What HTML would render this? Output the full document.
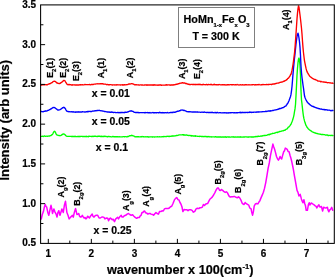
<!DOCTYPE html>
<html><head><meta charset="utf-8"><title>Raman spectra</title>
<style>
html,body{margin:0;padding:0;background:#fff;}
body{width:335px;height:277px;overflow:hidden;}
svg{display:block;will-change:transform;}
text{font-family:"Liberation Sans",sans-serif;font-weight:bold;fill:#000;stroke:#000;stroke-width:0.2px;}
</style></head><body>
<svg width="335" height="277" viewBox="0 0 335 277">
<rect x="0" y="0" width="335" height="277" fill="#fff"/>
<g fill="none" stroke-width="1.35" stroke-linejoin="round" stroke-linecap="round">
<path stroke="#ff00ff" stroke-width="1.5" d="M41.3,218.9 L42.3,214.5 L43.4,211.6 L44.3,207.3 L45.2,204.4 L46.0,206.5 L46.7,207.1 L47.8,212.4 L48.8,215.3 L49.9,210.1 L51.0,205.3 L51.8,209.0 L52.5,213.5 L53.9,208.9 L54.9,211.8 L56.0,213.9 L57.0,217.1 L57.9,212.5 L58.8,210.7 L60.0,215.3 L61.0,212.0 L61.9,208.9 L63.3,212.5 L64.4,205.1 L65.5,201.3 L66.2,207.2 L66.9,212.5 L68.0,215.2 L69.1,218.9 L70.3,217.6 L71.5,216.2 L72.4,215.4 L73.3,217.1 L74.4,212.2 L75.6,208.6 L76.9,214.4 L77.8,214.3 L78.7,213.5 L79.6,216.3 L80.5,217.1 L81.4,216.8 L82.3,215.3 L83.2,216.9 L84.1,218.0 L85.0,217.5 L85.9,218.9 L86.8,217.9 L87.7,216.2 L88.6,217.1 L89.5,218.0 L90.8,215.7 L92.2,214.0 L93.1,216.5 L94.0,217.1 L95.4,215.5 L96.8,215.3 L97.7,215.3 L99.1,218.0 L100.4,218.0 L101.8,217.0 L103.1,217.1 L104.0,217.4 L104.9,218.9 L105.8,218.3 L106.8,218.0 L107.7,218.2 L108.6,220.7 L109.5,218.9 L110.4,218.0 L111.3,218.9 L112.2,219.8 L113.3,219.3 L114.5,221.6 L115.6,219.1 L116.7,218.0 L117.6,217.3 L118.5,218.9 L119.8,216.7 L121.2,215.3 L122.1,217.1 L123.0,217.1 L124.3,215.8 L125.7,215.3 L127.1,214.2 L128.5,213.5 L129.8,214.5 L131.2,215.3 L132.6,214.8 L133.9,216.2 L135.2,217.4 L136.6,218.3 L137.9,217.5 L139.3,217.6 L140.2,215.9 L141.1,215.3 L142.0,212.5 L142.9,212.5 L143.8,211.2 L144.7,211.1 L145.6,212.8 L146.5,212.9 L147.8,214.1 L149.2,213.5 L150.1,213.5 L151.1,214.1 L152.0,214.4 L152.8,214.5 L153.6,215.3 L154.8,213.8 L156.0,212.6 L157.2,213.5 L158.4,214.2 L159.6,211.4 L160.8,211.6 L162.0,210.8 L163.3,211.0 L164.5,208.9 L165.7,208.4 L166.9,208.5 L168.1,208.6 L169.3,208.0 L170.5,206.7 L171.7,206.2 L173.1,203.2 L174.4,199.9 L175.6,198.4 L176.8,197.5 L177.9,199.6 L178.9,199.9 L180.0,202.5 L181.1,204.4 L182.0,207.0 L182.9,211.6 L184.1,209.6 L185.3,209.8 L186.7,209.7 L188.0,210.7 L189.3,209.7 L190.7,209.8 L192.1,210.4 L193.4,212.2 L194.8,211.3 L196.1,208.9 L197.4,208.2 L198.8,208.6 L200.0,207.7 L201.2,207.7 L202.4,207.1 L203.4,204.5 L204.5,205.5 L205.5,204.2 L206.5,203.8 L207.6,203.6 L208.6,201.6 L209.8,199.3 L211.0,198.2 L212.2,197.1 L213.6,195.0 L214.9,192.6 L216.1,190.0 L217.3,188.1 L218.4,188.0 L219.5,190.3 L220.4,190.6 L221.3,189.5 L222.7,190.4 L224.0,191.7 L225.2,192.4 L226.4,191.8 L227.6,193.1 L228.9,195.9 L230.3,197.1 L231.7,196.7 L233.0,196.8 L234.3,196.4 L235.7,197.1 L236.6,197.6 L237.6,197.8 L238.5,196.8 L239.8,198.0 L241.2,200.7 L242.1,203.1 L243.0,204.0 L244.1,204.5 L245.1,202.5 L246.3,203.7 L247.5,204.4 L248.7,205.1 L249.8,208.0 L251.1,208.9 L251.8,212.5 L252.6,215.2 L253.4,211.6 L254.2,206.2 L255.3,204.0 L256.5,203.5 L257.9,203.9 L259.2,201.6 L259.8,200.9 L261.0,197.9 L262.2,195.1 L263.4,192.3 L264.5,188.4 L265.7,182.8 L266.9,175.8 L268.1,168.4 L269.3,162.9 L270.5,155.3 L271.7,149.7 L272.9,144.1 L273.8,147.0 L274.6,149.3 L275.6,152.9 L276.5,156.5 L277.4,158.5 L278.4,160.1 L279.2,158.8 L280.1,156.5 L280.9,158.1 L281.7,158.9 L282.7,155.1 L283.7,151.7 L284.5,150.7 L285.3,148.1 L286.2,148.6 L287.2,149.3 L288.1,151.5 L289.1,151.7 L290.0,155.2 L290.8,157.7 L291.8,161.8 L292.7,166.0 L293.5,170.2 L294.4,175.6 L295.4,181.2 L296.4,186.8 L297.1,190.6 L297.9,192.1 L298.9,195.9 L300.2,194.4 L301.4,198.9 L302.1,201.0 L302.9,202.7 L303.9,199.7 L304.7,203.5 L305.5,205.8 L306.2,210.3 L307.4,210.3 L308.5,204.2 L309.2,202.7 L310.0,205.0 L311.1,203.0 L312.1,203.5 L313.0,204.2 L314.1,204.8 L315.3,205.8 L316.1,206.3 L316.8,208.0 L318.0,205.8 L318.9,204.9 L319.8,207.0 L320.6,207.0 L321.4,206.5 L322.6,211.0 L323.6,207.3 L324.8,207.7 L325.9,208.0 L326.6,207.6 L327.4,207.3 L328.1,210.2 L328.9,211.8 L329.7,209.9 L330.5,209.5 L331.7,207.3 L332.7,210.3"/>
<path stroke="#00ff00" d="M41.0,136.4 L41.5,136.3 L42.0,136.3 L42.5,136.2 L43.0,136.4 L43.5,136.5 L44.0,136.2 L44.5,136.0 L45.0,136.1 L45.5,136.4 L46.0,136.3 L46.5,136.2 L47.0,136.1 L47.5,136.3 L48.0,136.2 L48.5,136.1 L49.0,136.0 L49.5,136.0 L50.0,135.8 L50.5,135.7 L51.0,135.6 L51.5,135.0 L52.0,134.8 L52.5,134.4 L53.0,133.5 L53.5,132.3 L54.0,131.6 L54.5,131.2 L55.0,131.6 L55.5,132.5 L56.0,133.6 L56.5,134.6 L57.0,135.1 L57.5,135.2 L58.0,135.3 L58.5,135.3 L59.0,135.5 L59.5,135.7 L60.0,135.6 L60.5,135.6 L61.0,135.4 L61.5,135.0 L62.0,134.8 L62.5,134.2 L63.0,134.2 L63.5,134.0 L64.0,134.1 L64.5,134.2 L65.0,134.7 L65.5,135.2 L66.0,135.8 L66.5,136.2 L67.0,136.3 L67.5,136.3 L68.0,136.3 L68.5,136.4 L69.0,136.3 L69.5,136.4 L70.0,136.3 L70.5,136.3 L71.0,136.4 L71.5,136.5 L72.0,136.3 L72.5,136.6 L73.0,136.4 L73.5,136.5 L74.0,136.5 L74.5,136.3 L75.0,136.5 L75.5,136.3 L76.0,136.5 L76.5,136.6 L77.0,136.7 L77.5,136.6 L78.0,136.3 L78.5,136.4 L79.0,136.7 L79.5,136.5 L80.0,136.7 L80.5,136.4 L81.0,136.4 L81.5,136.3 L82.0,136.4 L82.5,136.6 L83.0,136.4 L83.5,136.6 L84.0,136.5 L84.5,136.6 L85.0,136.4 L85.5,136.5 L86.0,136.7 L86.5,136.3 L87.0,136.6 L87.5,136.6 L88.0,136.5 L88.5,136.7 L89.0,136.1 L89.5,136.4 L90.0,136.3 L90.5,136.4 L91.0,136.4 L91.5,136.5 L92.0,136.3 L92.5,136.5 L93.0,136.2 L93.5,136.5 L94.0,136.4 L94.5,136.2 L95.0,136.2 L95.5,136.2 L96.0,136.3 L96.5,136.4 L97.0,136.6 L97.5,136.5 L98.0,136.2 L98.5,136.1 L99.0,136.4 L99.5,136.2 L100.0,136.4 L100.5,136.3 L101.0,136.7 L101.5,136.2 L102.0,136.4 L102.5,136.6 L103.0,136.4 L103.5,136.3 L104.0,136.6 L104.5,136.2 L105.0,136.2 L105.5,136.3 L106.0,136.5 L106.5,136.6 L107.0,136.5 L107.5,136.8 L108.0,136.5 L108.5,136.5 L109.0,136.5 L109.5,136.7 L110.0,136.6 L110.5,136.6 L111.0,136.8 L111.5,136.8 L112.0,136.8 L112.5,136.5 L113.0,136.5 L113.5,136.7 L114.0,136.7 L114.5,136.7 L115.0,136.7 L115.5,136.8 L116.0,136.6 L116.5,136.8 L117.0,136.7 L117.5,136.7 L118.0,136.7 L118.5,136.9 L119.0,136.8 L119.5,136.7 L120.0,136.8 L120.5,136.8 L121.0,136.8 L121.5,136.8 L122.0,136.9 L122.5,136.8 L123.0,136.6 L123.5,136.6 L124.0,136.6 L124.5,136.8 L125.0,136.6 L125.5,136.6 L126.0,136.6 L126.5,136.8 L127.0,136.9 L127.5,136.5 L128.0,136.7 L128.5,136.3 L129.0,136.2 L129.5,135.9 L130.0,135.6 L130.5,135.7 L131.0,135.7 L131.5,135.3 L132.0,135.5 L132.5,135.7 L133.0,135.9 L133.5,135.9 L134.0,136.1 L134.5,136.5 L135.0,136.8 L135.5,136.7 L136.0,136.8 L136.5,136.7 L137.0,136.8 L137.5,136.7 L138.0,136.7 L138.5,136.7 L139.0,136.8 L139.5,136.9 L140.0,136.8 L140.5,136.9 L141.0,136.7 L141.5,136.9 L142.0,136.5 L142.5,136.7 L143.0,136.8 L143.5,136.6 L144.0,136.9 L144.5,136.9 L145.0,136.8 L145.5,136.9 L146.0,136.7 L146.5,136.8 L147.0,136.8 L147.5,136.7 L148.0,137.0 L148.5,136.8 L149.0,137.0 L149.5,136.9 L150.0,136.9 L150.5,136.8 L151.0,136.9 L151.5,136.8 L152.0,136.9 L152.5,137.1 L153.0,136.8 L153.5,136.9 L154.0,136.9 L154.5,137.0 L155.0,136.8 L155.5,136.8 L156.0,136.8 L156.5,136.8 L157.0,136.9 L157.5,136.7 L158.0,136.8 L158.5,136.9 L159.0,136.8 L159.5,136.7 L160.0,136.8 L160.5,136.8 L161.0,136.8 L161.5,136.8 L162.0,136.6 L162.5,136.7 L163.0,136.7 L163.5,136.7 L164.0,136.4 L164.5,136.6 L165.0,136.6 L165.5,136.6 L166.0,136.5 L166.5,136.5 L167.0,136.3 L167.5,136.3 L168.0,136.1 L168.5,136.4 L169.0,136.6 L169.5,136.5 L170.0,136.2 L170.5,136.3 L171.0,136.4 L171.5,136.1 L172.0,135.9 L172.5,136.2 L173.0,136.0 L173.5,135.9 L174.0,136.1 L174.5,135.9 L175.0,135.9 L175.5,135.9 L176.0,135.6 L176.5,135.4 L177.0,135.5 L177.5,135.3 L178.0,135.3 L178.5,135.2 L179.0,134.9 L179.5,134.9 L180.0,134.8 L180.5,134.8 L181.0,134.8 L181.5,134.9 L182.0,134.8 L182.5,134.7 L183.0,134.9 L183.5,134.7 L184.0,135.2 L184.5,134.9 L185.0,135.0 L185.5,135.2 L186.0,135.1 L186.5,135.0 L187.0,135.0 L187.5,135.3 L188.0,135.4 L188.5,135.5 L189.0,135.4 L189.5,135.4 L190.0,135.6 L190.5,135.7 L191.0,135.5 L191.5,136.1 L192.0,135.6 L192.5,135.9 L193.0,136.0 L193.5,136.0 L194.0,135.9 L194.5,136.0 L195.0,136.2 L195.5,135.7 L196.0,136.2 L196.5,136.1 L197.0,136.1 L197.5,136.3 L198.0,136.3 L198.5,136.4 L199.0,136.3 L199.5,136.5 L200.0,136.2 L200.5,136.3 L201.0,136.3 L201.5,136.5 L202.0,136.4 L202.5,136.6 L203.0,136.4 L203.5,136.7 L204.0,136.6 L204.5,136.5 L205.0,136.4 L205.5,136.5 L206.0,136.4 L206.5,136.8 L207.0,136.8 L207.5,136.5 L208.0,136.9 L208.5,136.7 L209.0,136.5 L209.5,136.9 L210.0,136.9 L210.5,136.8 L211.0,136.7 L211.5,137.0 L212.0,136.8 L212.5,136.8 L213.0,136.9 L213.5,136.9 L214.0,136.8 L214.5,136.8 L215.0,137.0 L215.5,136.6 L216.0,136.9 L216.5,137.0 L217.0,137.0 L217.5,136.9 L218.0,137.0 L218.5,137.0 L219.0,136.8 L219.5,137.0 L220.0,137.0 L220.5,136.8 L221.0,136.9 L221.5,137.2 L222.0,137.1 L222.5,136.9 L223.0,137.1 L223.5,137.0 L224.0,137.2 L224.5,137.1 L225.0,136.7 L225.5,137.0 L226.0,137.2 L226.5,137.2 L227.0,136.9 L227.5,136.9 L228.0,137.0 L228.5,136.9 L229.0,137.0 L229.5,136.9 L230.0,137.1 L230.5,137.1 L231.0,137.1 L231.5,136.9 L232.0,136.8 L232.5,136.8 L233.0,137.1 L233.5,136.8 L234.0,137.1 L234.5,137.2 L235.0,136.9 L235.5,137.0 L236.0,137.1 L236.5,137.1 L237.0,136.9 L237.5,137.0 L238.0,137.0 L238.5,137.0 L239.0,137.1 L239.5,137.0 L240.0,137.2 L240.5,136.8 L241.0,137.1 L241.5,137.1 L242.0,137.0 L242.5,137.1 L243.0,137.1 L243.5,137.0 L244.0,137.0 L244.5,137.0 L245.0,136.9 L245.5,136.8 L246.0,136.9 L246.5,136.9 L247.0,137.0 L247.5,137.1 L248.0,137.0 L248.5,137.2 L249.0,137.0 L249.5,136.9 L250.0,136.9 L250.5,136.9 L251.0,137.0 L251.5,137.1 L252.0,136.8 L252.5,137.0 L253.0,136.9 L253.5,137.0 L254.0,136.8 L254.5,136.9 L255.0,136.7 L255.5,136.8 L256.0,136.4 L256.5,136.7 L257.0,136.6 L257.5,136.3 L258.0,136.5 L258.5,136.2 L259.0,136.4 L259.5,136.3 L260.0,136.3 L260.5,136.2 L261.0,135.9 L261.5,136.2 L262.0,136.1 L262.5,135.7 L263.0,135.8 L263.5,135.7 L264.0,135.5 L264.5,135.4 L265.0,135.6 L265.5,135.3 L266.0,135.3 L266.5,135.3 L267.0,135.1 L267.5,134.8 L268.0,134.9 L268.5,134.5 L269.0,134.4 L269.5,134.7 L270.0,134.2 L270.5,134.2 L271.0,133.9 L271.5,133.9 L272.0,133.8 L272.5,133.3 L273.0,133.4 L273.5,133.4 L274.0,133.3 L274.5,133.1 L275.0,132.8 L275.5,132.8 L276.0,132.5 L276.5,132.4 L277.0,132.3 L277.5,132.5 L278.0,132.0 L278.5,132.1 L279.0,131.9 L279.5,131.5 L280.0,131.5 L280.5,131.4 L281.0,131.3 L281.5,131.2 L282.0,130.9 L282.5,130.8 L283.0,130.9 L283.5,130.6 L284.0,130.3 L284.5,130.2 L285.0,130.2 L285.5,129.7 L286.0,129.3 L286.5,129.2 L287.0,128.9 L287.5,128.4 L288.0,127.6 L288.5,127.1 L289.0,126.9 L289.5,126.2 L290.0,125.6 L290.5,124.8 L291.0,124.2 L291.5,123.0 L292.0,121.8 L292.5,120.5 L293.0,118.8 L293.5,117.1 L294.0,114.8 L294.5,111.7 L295.0,108.9 L295.5,104.5 L296.0,95.8 L296.5,85.7 L297.0,75.3 L297.5,68.1 L298.0,62.6 L298.5,59.0 L299.0,58.0 L299.5,60.3 L300.0,65.6 L300.5,74.8 L301.0,90.9 L301.5,100.0 L302.0,104.0 L302.5,108.6 L303.0,112.9 L303.5,116.5 L304.0,118.9 L304.5,120.9 L305.0,122.6 L305.5,124.0 L306.0,125.4 L306.5,126.1 L307.0,127.3 L307.5,127.8 L308.0,128.4 L308.5,128.9 L309.0,129.5 L309.5,129.8 L310.0,130.2 L310.5,130.7 L311.0,130.9 L311.5,131.2 L312.0,131.6 L312.5,131.9 L313.0,132.1 L313.5,132.3 L314.0,132.4 L314.5,132.9 L315.0,132.8 L315.5,132.9 L316.0,133.4 L316.5,133.3 L317.0,133.5 L317.5,133.7 L318.0,133.9 L318.5,133.9 L319.0,134.0 L319.5,134.1 L320.0,134.2 L320.5,134.2 L321.0,134.4 L321.5,134.6 L322.0,134.5 L322.5,134.5 L323.0,134.5 L323.5,134.6 L324.0,134.6 L324.5,134.7 L325.0,134.8 L325.5,135.0 L326.0,135.1 L326.5,135.0 L327.0,135.1 L327.5,135.0 L328.0,135.5 L328.5,135.6 L329.0,135.3 L329.5,135.4 L330.0,135.4 L330.5,135.5 L331.0,135.4 L331.5,135.3 L332.0,135.6 L332.5,135.4 L333.0,135.6"/>
<path stroke="#0000ff" d="M41.0,111.5 L41.5,111.5 L42.0,111.6 L42.5,111.7 L43.0,111.9 L43.5,111.4 L44.0,111.4 L44.5,111.4 L45.0,111.0 L45.5,111.2 L46.0,110.9 L46.5,111.1 L47.0,110.9 L47.5,110.6 L48.0,110.3 L48.5,110.4 L49.0,110.0 L49.5,109.7 L50.0,109.6 L50.5,109.0 L51.0,109.0 L51.5,108.7 L52.0,108.2 L52.5,107.9 L53.0,107.5 L53.5,107.6 L54.0,107.5 L54.5,107.7 L55.0,107.9 L55.5,108.3 L56.0,108.7 L56.5,109.0 L57.0,109.4 L57.5,109.8 L58.0,110.1 L58.5,110.0 L59.0,109.9 L59.5,109.8 L60.0,109.6 L60.5,109.3 L61.0,109.1 L61.5,108.6 L62.0,108.3 L62.5,107.7 L63.0,107.7 L63.5,107.3 L64.0,107.4 L64.5,107.7 L65.0,108.3 L65.5,108.9 L66.0,110.0 L66.5,110.8 L67.0,111.3 L67.5,111.3 L68.0,111.5 L68.5,111.7 L69.0,111.9 L69.5,111.6 L70.0,111.7 L70.5,111.8 L71.0,111.8 L71.5,111.7 L72.0,111.9 L72.5,112.0 L73.0,111.7 L73.5,112.0 L74.0,112.1 L74.5,112.1 L75.0,111.9 L75.5,112.3 L76.0,112.1 L76.5,111.9 L77.0,112.1 L77.5,111.9 L78.0,112.1 L78.5,111.8 L79.0,112.1 L79.5,111.9 L80.0,112.1 L80.5,112.0 L81.0,112.0 L81.5,111.9 L82.0,112.0 L82.5,111.7 L83.0,111.9 L83.5,111.9 L84.0,111.9 L84.5,111.9 L85.0,112.2 L85.5,111.8 L86.0,111.8 L86.5,111.7 L87.0,111.9 L87.5,111.4 L88.0,111.8 L88.5,111.5 L89.0,111.3 L89.5,111.4 L90.0,111.5 L90.5,111.5 L91.0,111.4 L91.5,111.5 L92.0,111.3 L92.5,111.2 L93.0,110.9 L93.5,111.1 L94.0,111.1 L94.5,110.9 L95.0,110.6 L95.5,110.6 L96.0,110.9 L96.5,110.6 L97.0,110.5 L97.5,110.4 L98.0,110.6 L98.5,110.4 L99.0,110.4 L99.5,110.3 L100.0,110.6 L100.5,110.7 L101.0,110.7 L101.5,110.9 L102.0,110.9 L102.5,111.0 L103.0,111.1 L103.5,111.2 L104.0,111.4 L104.5,111.5 L105.0,111.5 L105.5,111.6 L106.0,111.7 L106.5,111.9 L107.0,111.9 L107.5,112.0 L108.0,111.8 L108.5,112.1 L109.0,112.2 L109.5,112.0 L110.0,112.3 L110.5,112.2 L111.0,112.2 L111.5,112.0 L112.0,112.4 L112.5,112.2 L113.0,112.3 L113.5,112.5 L114.0,112.3 L114.5,112.3 L115.0,112.3 L115.5,112.5 L116.0,112.6 L116.5,112.6 L117.0,112.6 L117.5,112.5 L118.0,112.6 L118.5,112.5 L119.0,112.8 L119.5,112.6 L120.0,112.4 L120.5,112.5 L121.0,112.8 L121.5,112.4 L122.0,112.5 L122.5,112.6 L123.0,112.4 L123.5,112.6 L124.0,112.7 L124.5,112.3 L125.0,112.5 L125.5,112.2 L126.0,112.2 L126.5,112.3 L127.0,112.2 L127.5,112.0 L128.0,112.0 L128.5,111.6 L129.0,111.4 L129.5,111.1 L130.0,111.2 L130.5,111.0 L131.0,111.0 L131.5,110.8 L132.0,111.1 L132.5,111.4 L133.0,111.4 L133.5,111.8 L134.0,112.2 L134.5,112.4 L135.0,112.4 L135.5,112.5 L136.0,112.5 L136.5,112.5 L137.0,112.5 L137.5,112.4 L138.0,112.5 L138.5,112.5 L139.0,112.8 L139.5,112.6 L140.0,112.6 L140.5,112.6 L141.0,112.6 L141.5,112.6 L142.0,112.7 L142.5,112.6 L143.0,112.7 L143.5,112.6 L144.0,112.7 L144.5,112.8 L145.0,112.5 L145.5,112.7 L146.0,112.7 L146.5,112.6 L147.0,112.6 L147.5,112.5 L148.0,112.8 L148.5,112.6 L149.0,112.6 L149.5,112.8 L150.0,112.5 L150.5,112.8 L151.0,112.8 L151.5,112.8 L152.0,112.7 L152.5,112.6 L153.0,112.5 L153.5,112.9 L154.0,112.6 L154.5,112.6 L155.0,112.9 L155.5,112.6 L156.0,112.7 L156.5,112.7 L157.0,112.7 L157.5,112.6 L158.0,112.6 L158.5,112.9 L159.0,112.8 L159.5,112.3 L160.0,112.5 L160.5,112.7 L161.0,112.7 L161.5,112.7 L162.0,112.8 L162.5,112.5 L163.0,112.8 L163.5,112.7 L164.0,112.8 L164.5,112.7 L165.0,112.8 L165.5,112.7 L166.0,112.6 L166.5,112.8 L167.0,112.7 L167.5,112.5 L168.0,112.8 L168.5,112.8 L169.0,112.8 L169.5,112.6 L170.0,112.6 L170.5,112.5 L171.0,112.4 L171.5,112.5 L172.0,112.5 L172.5,112.3 L173.0,112.6 L173.5,112.1 L174.0,112.2 L174.5,112.2 L175.0,112.3 L175.5,112.0 L176.0,111.9 L176.5,111.6 L177.0,111.5 L177.5,111.2 L178.0,111.3 L178.5,111.1 L179.0,111.0 L179.5,110.6 L180.0,110.8 L180.5,110.3 L181.0,110.0 L181.5,110.1 L182.0,110.1 L182.5,110.2 L183.0,110.0 L183.5,110.3 L184.0,110.6 L184.5,110.4 L185.0,110.7 L185.5,110.8 L186.0,111.2 L186.5,111.5 L187.0,111.6 L187.5,111.7 L188.0,111.9 L188.5,111.7 L189.0,111.9 L189.5,111.7 L190.0,111.7 L190.5,111.9 L191.0,111.8 L191.5,111.9 L192.0,112.1 L192.5,112.0 L193.0,111.8 L193.5,111.9 L194.0,112.1 L194.5,111.9 L195.0,112.0 L195.5,112.0 L196.0,112.0 L196.5,112.1 L197.0,112.0 L197.5,111.9 L198.0,112.2 L198.5,112.1 L199.0,112.2 L199.5,112.1 L200.0,112.2 L200.5,112.3 L201.0,112.3 L201.5,112.1 L202.0,112.1 L202.5,112.2 L203.0,112.2 L203.5,112.3 L204.0,112.1 L204.5,112.0 L205.0,112.3 L205.5,112.4 L206.0,112.4 L206.5,112.5 L207.0,112.4 L207.5,112.3 L208.0,112.5 L208.5,112.4 L209.0,112.6 L209.5,112.5 L210.0,112.5 L210.5,112.5 L211.0,112.5 L211.5,112.3 L212.0,112.5 L212.5,112.3 L213.0,112.6 L213.5,112.7 L214.0,112.8 L214.5,112.7 L215.0,112.5 L215.5,112.4 L216.0,112.9 L216.5,112.5 L217.0,112.8 L217.5,112.4 L218.0,112.7 L218.5,112.8 L219.0,112.8 L219.5,112.7 L220.0,112.6 L220.5,112.6 L221.0,112.9 L221.5,112.8 L222.0,112.8 L222.5,112.8 L223.0,112.7 L223.5,112.9 L224.0,112.9 L224.5,112.7 L225.0,112.8 L225.5,112.9 L226.0,112.7 L226.5,113.0 L227.0,113.0 L227.5,112.8 L228.0,112.9 L228.5,113.0 L229.0,112.6 L229.5,112.9 L230.0,112.8 L230.5,112.7 L231.0,112.9 L231.5,112.7 L232.0,112.6 L232.5,112.6 L233.0,112.7 L233.5,112.8 L234.0,112.7 L234.5,112.7 L235.0,112.7 L235.5,112.9 L236.0,112.8 L236.5,112.6 L237.0,112.6 L237.5,112.8 L238.0,112.6 L238.5,112.6 L239.0,112.6 L239.5,112.5 L240.0,112.7 L240.5,112.3 L241.0,112.8 L241.5,112.5 L242.0,112.4 L242.5,112.6 L243.0,112.3 L243.5,112.6 L244.0,112.6 L244.5,112.4 L245.0,112.4 L245.5,112.6 L246.0,112.4 L246.5,112.4 L247.0,112.5 L247.5,112.6 L248.0,112.3 L248.5,112.4 L249.0,112.5 L249.5,112.0 L250.0,112.3 L250.5,112.1 L251.0,112.1 L251.5,112.5 L252.0,112.3 L252.5,112.4 L253.0,112.2 L253.5,112.3 L254.0,112.1 L254.5,112.1 L255.0,112.1 L255.5,112.1 L256.0,112.3 L256.5,112.0 L257.0,112.1 L257.5,111.9 L258.0,112.0 L258.5,111.8 L259.0,112.0 L259.5,111.8 L260.0,111.8 L260.5,111.8 L261.0,111.9 L261.5,111.8 L262.0,111.7 L262.5,111.7 L263.0,111.6 L263.5,111.7 L264.0,111.6 L264.5,111.6 L265.0,111.6 L265.5,111.5 L266.0,111.2 L266.5,111.5 L267.0,111.5 L267.5,111.2 L268.0,111.1 L268.5,110.9 L269.0,111.1 L269.5,110.9 L270.0,111.2 L270.5,110.6 L271.0,110.8 L271.5,110.8 L272.0,110.6 L272.5,110.5 L273.0,110.5 L273.5,110.3 L274.0,110.2 L274.5,110.1 L275.0,110.0 L275.5,109.9 L276.0,109.9 L276.5,109.6 L277.0,109.6 L277.5,109.3 L278.0,109.4 L278.5,109.0 L279.0,109.1 L279.5,108.5 L280.0,108.6 L280.5,108.4 L281.0,108.5 L281.5,108.2 L282.0,107.8 L282.5,107.7 L283.0,107.8 L283.5,107.4 L284.0,107.2 L284.5,106.6 L285.0,106.3 L285.5,106.2 L286.0,105.9 L286.5,104.9 L287.0,104.4 L287.5,103.4 L288.0,102.9 L288.5,101.8 L289.0,100.7 L289.5,99.3 L290.0,98.1 L290.5,96.5 L291.0,94.4 L291.5,90.9 L292.0,86.5 L292.5,80.4 L293.0,74.1 L293.5,68.3 L294.0,63.1 L294.5,58.3 L295.0,53.9 L295.5,48.9 L296.0,44.3 L296.5,40.1 L297.0,36.6 L297.5,34.2 L298.0,33.2 L298.5,35.0 L299.0,38.1 L299.5,41.9 L300.0,47.4 L300.5,55.5 L301.0,66.4 L301.5,72.8 L302.0,77.5 L302.5,81.2 L303.0,85.0 L303.5,88.1 L304.0,92.2 L304.5,95.8 L305.0,97.5 L305.5,98.7 L306.0,99.8 L306.5,100.7 L307.0,101.7 L307.5,102.3 L308.0,102.8 L308.5,103.6 L309.0,103.7 L309.5,104.2 L310.0,104.7 L310.5,105.2 L311.0,105.5 L311.5,105.8 L312.0,106.1 L312.5,106.4 L313.0,106.5 L313.5,106.4 L314.0,107.0 L314.5,107.0 L315.0,107.3 L315.5,107.5 L316.0,107.6 L316.5,107.8 L317.0,108.1 L317.5,108.2 L318.0,108.5 L318.5,108.5 L319.0,108.7 L319.5,108.7 L320.0,108.9 L320.5,109.1 L321.0,109.1 L321.5,109.0 L322.0,109.3 L322.5,109.4 L323.0,109.6 L323.5,109.5 L324.0,109.6 L324.5,109.5 L325.0,110.0 L325.5,109.7 L326.0,109.7 L326.5,109.9 L327.0,109.8 L327.5,110.2 L328.0,110.1 L328.5,110.2 L329.0,110.1 L329.5,110.2 L330.0,110.4 L330.5,110.5 L331.0,110.8 L331.5,110.6 L332.0,110.3 L332.5,110.6 L333.0,110.5"/>
<path stroke="#ff0000" d="M41.0,85.2 L41.5,85.0 L42.0,85.0 L42.5,84.7 L43.0,84.9 L43.5,84.9 L44.0,84.9 L44.5,84.8 L45.0,84.8 L45.5,84.7 L46.0,84.6 L46.5,84.8 L47.0,84.7 L47.5,84.7 L48.0,84.4 L48.5,84.2 L49.0,84.0 L49.5,83.7 L50.0,83.8 L50.5,83.3 L51.0,83.1 L51.5,82.9 L52.0,82.7 L52.5,82.2 L53.0,81.6 L53.5,81.3 L54.0,81.3 L54.5,81.2 L55.0,81.3 L55.5,81.6 L56.0,82.1 L56.5,82.7 L57.0,82.7 L57.5,83.2 L58.0,83.4 L58.5,83.4 L59.0,83.6 L59.5,83.4 L60.0,83.5 L60.5,83.1 L61.0,82.6 L61.5,82.6 L62.0,82.1 L62.5,81.5 L63.0,81.1 L63.5,80.7 L64.0,80.4 L64.5,80.6 L65.0,80.8 L65.5,81.8 L66.0,82.6 L66.5,83.4 L67.0,84.2 L67.5,84.6 L68.0,84.7 L68.5,84.5 L69.0,84.8 L69.5,84.5 L70.0,84.7 L70.5,84.6 L71.0,84.9 L71.5,85.0 L72.0,84.8 L72.5,85.1 L73.0,84.8 L73.5,84.9 L74.0,84.9 L74.5,84.8 L75.0,85.0 L75.5,85.1 L76.0,84.8 L76.5,85.0 L77.0,84.9 L77.5,85.1 L78.0,84.9 L78.5,85.0 L79.0,85.0 L79.5,84.9 L80.0,84.7 L80.5,85.0 L81.0,84.7 L81.5,84.9 L82.0,84.9 L82.5,84.7 L83.0,84.8 L83.5,84.9 L84.0,84.8 L84.5,84.7 L85.0,84.4 L85.5,84.6 L86.0,84.7 L86.5,84.6 L87.0,84.6 L87.5,84.7 L88.0,84.6 L88.5,84.6 L89.0,84.7 L89.5,84.5 L90.0,84.6 L90.5,84.8 L91.0,84.7 L91.5,84.4 L92.0,84.5 L92.5,84.5 L93.0,84.5 L93.5,84.3 L94.0,84.2 L94.5,84.1 L95.0,84.2 L95.5,84.1 L96.0,83.9 L96.5,83.9 L97.0,83.8 L97.5,83.9 L98.0,83.7 L98.5,83.8 L99.0,83.8 L99.5,83.8 L100.0,83.6 L100.5,83.9 L101.0,83.6 L101.5,83.8 L102.0,83.7 L102.5,83.7 L103.0,84.0 L103.5,84.0 L104.0,84.1 L104.5,84.2 L105.0,84.1 L105.5,84.2 L106.0,84.4 L106.5,84.7 L107.0,84.6 L107.5,84.5 L108.0,84.7 L108.5,84.7 L109.0,84.7 L109.5,84.9 L110.0,84.7 L110.5,84.6 L111.0,84.7 L111.5,84.8 L112.0,84.8 L112.5,85.0 L113.0,84.8 L113.5,84.9 L114.0,84.9 L114.5,84.8 L115.0,85.0 L115.5,84.9 L116.0,84.8 L116.5,85.0 L117.0,84.7 L117.5,84.9 L118.0,84.9 L118.5,84.9 L119.0,84.8 L119.5,84.9 L120.0,84.9 L120.5,85.0 L121.0,84.8 L121.5,84.9 L122.0,84.9 L122.5,84.7 L123.0,85.2 L123.5,84.8 L124.0,84.7 L124.5,85.0 L125.0,84.7 L125.5,84.8 L126.0,84.9 L126.5,84.6 L127.0,84.6 L127.5,84.6 L128.0,84.5 L128.5,84.2 L129.0,84.0 L129.5,84.0 L130.0,84.0 L130.5,83.8 L131.0,83.8 L131.5,83.7 L132.0,83.6 L132.5,83.9 L133.0,83.9 L133.5,84.2 L134.0,84.4 L134.5,84.8 L135.0,84.9 L135.5,84.7 L136.0,84.8 L136.5,84.7 L137.0,84.8 L137.5,84.9 L138.0,84.9 L138.5,84.8 L139.0,85.1 L139.5,85.1 L140.0,84.9 L140.5,84.9 L141.0,84.9 L141.5,85.0 L142.0,85.0 L142.5,85.0 L143.0,85.1 L143.5,85.1 L144.0,85.1 L144.5,85.0 L145.0,85.0 L145.5,84.9 L146.0,84.9 L146.5,85.2 L147.0,84.9 L147.5,85.2 L148.0,85.0 L148.5,85.0 L149.0,85.1 L149.5,85.0 L150.0,85.0 L150.5,85.0 L151.0,84.9 L151.5,85.0 L152.0,84.9 L152.5,85.2 L153.0,85.0 L153.5,85.2 L154.0,84.7 L154.5,85.0 L155.0,85.1 L155.5,85.0 L156.0,85.1 L156.5,85.1 L157.0,85.0 L157.5,85.1 L158.0,85.3 L158.5,85.0 L159.0,85.0 L159.5,84.9 L160.0,85.0 L160.5,84.8 L161.0,85.0 L161.5,85.3 L162.0,85.1 L162.5,85.1 L163.0,85.1 L163.5,85.2 L164.0,85.1 L164.5,85.2 L165.0,85.1 L165.5,85.0 L166.0,85.2 L166.5,84.7 L167.0,84.9 L167.5,85.0 L168.0,84.9 L168.5,84.9 L169.0,84.9 L169.5,84.9 L170.0,85.3 L170.5,85.0 L171.0,84.9 L171.5,85.0 L172.0,84.8 L172.5,85.0 L173.0,84.9 L173.5,85.0 L174.0,84.6 L174.5,84.8 L175.0,84.7 L175.5,84.4 L176.0,84.5 L176.5,84.2 L177.0,84.3 L177.5,84.0 L178.0,83.9 L178.5,83.7 L179.0,83.7 L179.5,83.3 L180.0,83.4 L180.5,83.2 L181.0,83.1 L181.5,83.0 L182.0,83.0 L182.5,82.7 L183.0,83.0 L183.5,83.1 L184.0,82.9 L184.5,83.0 L185.0,83.2 L185.5,83.5 L186.0,83.7 L186.5,83.5 L187.0,83.8 L187.5,84.0 L188.0,84.2 L188.5,84.2 L189.0,84.5 L189.5,84.3 L190.0,84.6 L190.5,84.6 L191.0,84.3 L191.5,84.3 L192.0,84.4 L192.5,84.6 L193.0,84.4 L193.5,84.3 L194.0,84.5 L194.5,84.5 L195.0,84.4 L195.5,84.7 L196.0,84.5 L196.5,84.6 L197.0,84.4 L197.5,84.5 L198.0,84.5 L198.5,84.3 L199.0,84.6 L199.5,84.3 L200.0,84.6 L200.5,84.4 L201.0,84.8 L201.5,84.6 L202.0,84.7 L202.5,84.7 L203.0,84.4 L203.5,84.3 L204.0,84.6 L204.5,84.7 L205.0,84.6 L205.5,84.7 L206.0,84.7 L206.5,84.4 L207.0,84.7 L207.5,84.9 L208.0,84.6 L208.5,84.4 L209.0,84.6 L209.5,84.6 L210.0,84.7 L210.5,84.5 L211.0,84.7 L211.5,84.4 L212.0,84.8 L212.5,84.9 L213.0,84.8 L213.5,84.5 L214.0,84.7 L214.5,84.3 L215.0,84.7 L215.5,84.7 L216.0,84.6 L216.5,84.8 L217.0,84.7 L217.5,84.8 L218.0,84.7 L218.5,84.8 L219.0,84.5 L219.5,84.6 L220.0,84.7 L220.5,84.8 L221.0,84.8 L221.5,84.9 L222.0,84.7 L222.5,84.7 L223.0,84.8 L223.5,84.7 L224.0,84.8 L224.5,84.7 L225.0,85.0 L225.5,84.8 L226.0,84.9 L226.5,84.8 L227.0,85.0 L227.5,84.6 L228.0,84.9 L228.5,84.7 L229.0,84.8 L229.5,84.9 L230.0,84.7 L230.5,84.6 L231.0,84.7 L231.5,84.8 L232.0,84.6 L232.5,84.8 L233.0,84.6 L233.5,84.7 L234.0,84.8 L234.5,84.8 L235.0,84.7 L235.5,84.7 L236.0,84.8 L236.5,84.8 L237.0,84.5 L237.5,84.7 L238.0,84.8 L238.5,84.9 L239.0,85.0 L239.5,84.9 L240.0,84.8 L240.5,84.7 L241.0,84.8 L241.5,84.9 L242.0,85.0 L242.5,84.7 L243.0,84.8 L243.5,84.9 L244.0,85.0 L244.5,84.8 L245.0,84.7 L245.5,84.7 L246.0,84.8 L246.5,84.7 L247.0,84.9 L247.5,84.9 L248.0,84.9 L248.5,84.9 L249.0,84.7 L249.5,84.8 L250.0,84.8 L250.5,84.8 L251.0,84.9 L251.5,84.8 L252.0,84.6 L252.5,84.8 L253.0,84.7 L253.5,84.6 L254.0,84.7 L254.5,84.9 L255.0,85.0 L255.5,84.7 L256.0,84.9 L256.5,84.9 L257.0,84.6 L257.5,84.7 L258.0,84.7 L258.5,84.7 L259.0,84.5 L259.5,84.7 L260.0,84.8 L260.5,84.8 L261.0,84.9 L261.5,84.6 L262.0,84.9 L262.5,84.7 L263.0,84.5 L263.5,84.7 L264.0,84.6 L264.5,84.7 L265.0,84.6 L265.5,84.7 L266.0,84.6 L266.5,84.5 L267.0,84.7 L267.5,84.6 L268.0,84.5 L268.5,84.7 L269.0,84.5 L269.5,84.4 L270.0,84.4 L270.5,84.3 L271.0,84.4 L271.5,84.6 L272.0,84.2 L272.5,84.2 L273.0,84.0 L273.5,84.0 L274.0,84.1 L274.5,84.0 L275.0,83.7 L275.5,83.7 L276.0,83.5 L276.5,83.4 L277.0,83.2 L277.5,83.1 L278.0,83.1 L278.5,83.0 L279.0,82.9 L279.5,82.7 L280.0,82.4 L280.5,82.4 L281.0,82.1 L281.5,82.2 L282.0,82.0 L282.5,81.9 L283.0,81.6 L283.5,81.2 L284.0,81.3 L284.5,81.1 L285.0,80.6 L285.5,80.5 L286.0,80.3 L286.5,79.6 L287.0,79.5 L287.5,78.8 L288.0,78.3 L288.5,78.1 L289.0,77.3 L289.5,76.6 L290.0,76.0 L290.5,74.8 L291.0,74.2 L291.5,72.4 L292.0,70.4 L292.5,67.6 L293.0,64.5 L293.5,61.1 L294.0,57.2 L294.5,53.1 L295.0,47.7 L295.5,40.9 L296.0,33.6 L296.5,26.3 L297.0,18.9 L297.5,13.1 L298.0,8.5 L298.5,5.8 L299.0,7.2 L299.5,11.2 L300.0,15.0 L300.5,19.1 L301.0,23.5 L301.5,28.3 L302.0,34.0 L302.5,41.3 L303.0,47.6 L303.5,52.7 L304.0,57.0 L304.5,60.8 L305.0,63.4 L305.5,65.8 L306.0,68.2 L306.5,70.1 L307.0,71.6 L307.5,72.6 L308.0,73.4 L308.5,74.3 L309.0,75.0 L309.5,75.9 L310.0,76.5 L310.5,76.8 L311.0,77.2 L311.5,77.7 L312.0,78.0 L312.5,78.4 L313.0,78.7 L313.5,78.9 L314.0,79.3 L314.5,79.3 L315.0,79.5 L315.5,79.7 L316.0,80.0 L316.5,80.2 L317.0,80.3 L317.5,80.9 L318.0,81.0 L318.5,81.1 L319.0,81.1 L319.5,81.2 L320.0,81.3 L320.5,81.8 L321.0,81.4 L321.5,81.7 L322.0,81.9 L322.5,81.9 L323.0,81.9 L323.5,82.1 L324.0,81.9 L324.5,82.2 L325.0,82.3 L325.5,82.1 L326.0,82.2 L326.5,82.4 L327.0,82.6 L327.5,82.7 L328.0,82.7 L328.5,82.6 L329.0,82.6 L329.5,82.8 L330.0,82.9 L330.5,82.8 L331.0,83.0 L331.5,83.1 L332.0,83.2 L332.5,83.0 L333.0,83.3"/>
</g>
<rect x="40.6" y="4.9" width="293.7" height="238.5" fill="none" stroke="#000" stroke-width="1.05"/>
<g stroke="#000" stroke-width="1">
<line x1="48.30" y1="243.4" x2="48.30" y2="238.9"/><line x1="91.33" y1="243.4" x2="91.33" y2="238.9"/><line x1="134.36" y1="243.4" x2="134.36" y2="238.9"/><line x1="177.39" y1="243.4" x2="177.39" y2="238.9"/><line x1="220.42" y1="243.4" x2="220.42" y2="238.9"/><line x1="263.45" y1="243.4" x2="263.45" y2="238.9"/><line x1="306.48" y1="243.4" x2="306.48" y2="238.9"/><line x1="69.81" y1="243.4" x2="69.81" y2="240.6"/><line x1="112.84" y1="243.4" x2="112.84" y2="240.6"/><line x1="155.88" y1="243.4" x2="155.88" y2="240.6"/><line x1="198.91" y1="243.4" x2="198.91" y2="240.6"/><line x1="241.94" y1="243.4" x2="241.94" y2="240.6"/><line x1="284.97" y1="243.4" x2="284.97" y2="240.6"/><line x1="328.00" y1="243.4" x2="328.00" y2="240.6"/><line x1="40.6" y1="203.65" x2="45.1" y2="203.65"/><line x1="40.6" y1="163.90" x2="45.1" y2="163.90"/><line x1="40.6" y1="124.15" x2="45.1" y2="124.15"/><line x1="40.6" y1="84.40" x2="45.1" y2="84.40"/><line x1="40.6" y1="44.65" x2="45.1" y2="44.65"/><line x1="40.6" y1="223.53" x2="43.4" y2="223.53"/><line x1="40.6" y1="183.78" x2="43.4" y2="183.78"/><line x1="40.6" y1="144.03" x2="43.4" y2="144.03"/><line x1="40.6" y1="104.28" x2="43.4" y2="104.28"/><line x1="40.6" y1="64.53" x2="43.4" y2="64.53"/><line x1="40.6" y1="24.78" x2="43.4" y2="24.78"/>
</g>
<g font-size="10.3" stroke="#000" stroke-width="0.3"><text transform="translate(48.3 257) scale(.97 1)" text-anchor="middle">1</text><text transform="translate(91.3 257) scale(.97 1)" text-anchor="middle">2</text><text transform="translate(134.4 257) scale(.97 1)" text-anchor="middle">3</text><text transform="translate(177.4 257) scale(.97 1)" text-anchor="middle">4</text><text transform="translate(220.4 257) scale(.97 1)" text-anchor="middle">5</text><text transform="translate(263.4 257) scale(.97 1)" text-anchor="middle">6</text><text transform="translate(306.5 257) scale(.97 1)" text-anchor="middle">7</text><text transform="translate(36 246.3) scale(.97 1)" text-anchor="end">0.5</text><text transform="translate(36 206.6) scale(.97 1)" text-anchor="end">1.0</text><text transform="translate(36 166.8) scale(.97 1)" text-anchor="end">1.5</text><text transform="translate(36 127.1) scale(.97 1)" text-anchor="end">2.0</text><text transform="translate(36 87.3) scale(.97 1)" text-anchor="end">2.5</text><text transform="translate(36 47.6) scale(.97 1)" text-anchor="end">3.0</text><text transform="translate(36 7.8) scale(.97 1)" text-anchor="end">3.5</text></g>
<rect x="178.5" y="7.5" width="76" height="40" fill="#fff" stroke="#7f7f7f" stroke-width="1"/>
<text x="183.5" y="23.3" font-size="10.8">HoMn<tspan font-size="5.9" dy="3.3">1-x</tspan><tspan dy="-3.3">Fe</tspan><tspan font-size="5.9" dy="3.3">x</tspan><tspan dy="-3.3">O</tspan><tspan font-size="5.9" dy="3.3">3</tspan></text>
<text x="216" y="40" font-size="10.7" text-anchor="middle">T = 300 K</text>
<g font-size="10.9">
<text transform="translate(91.7 96.7) scale(.96 1)">x = 0.01</text>
<text transform="translate(91.7 125.2) scale(.96 1)">x = 0.05</text>
<text transform="translate(95.7 150.8) scale(.96 1)">x = 0.1</text>
<text transform="translate(93.5 234.1) scale(.96 1)">x = 0.25</text>
</g>
<text transform="translate(53.4,77.8) rotate(-90)" font-size="8.9" stroke="#000" stroke-width="0.2">E<tspan font-size="5.87" dy="3.0">2</tspan><tspan dy="-3.0">(1)</tspan></text>
<text transform="translate(66.2,77.8) rotate(-90)" font-size="8.9" stroke="#000" stroke-width="0.2">E<tspan font-size="5.87" dy="3.0">2</tspan><tspan dy="-3.0">(2)</tspan></text>
<text transform="translate(79.1,81.1) rotate(-90)" font-size="8.9" stroke="#000" stroke-width="0.2">E<tspan font-size="5.87" dy="3.0">2</tspan><tspan dy="-3.0">(3)</tspan></text>
<text transform="translate(103.6,78.3) rotate(-90)" font-size="8.9" stroke="#000" stroke-width="0.2">A<tspan font-size="5.87" dy="3.0">1</tspan><tspan dy="-3.0">(1)</tspan></text>
<text transform="translate(132.8,78.2) rotate(-90)" font-size="8.9" stroke="#000" stroke-width="0.2">A<tspan font-size="5.87" dy="3.0">1</tspan><tspan dy="-3.0">(2)</tspan></text>
<text transform="translate(184.8,79.1) rotate(-90)" font-size="8.9" stroke="#000" stroke-width="0.2">A<tspan font-size="5.87" dy="3.0">1</tspan><tspan dy="-3.0">(3)</tspan></text>
<text transform="translate(200,79.1) rotate(-90)" font-size="8.9" stroke="#000" stroke-width="0.2">E<tspan font-size="5.87" dy="3.0">2</tspan><tspan dy="-3.0">(4)</tspan></text>
<text transform="translate(289.1,30.0) rotate(-90)" font-size="8.9" stroke="#000" stroke-width="0.2">A<tspan font-size="5.87" dy="3.0">1</tspan><tspan dy="-3.0">(4)</tspan></text>
<text transform="translate(63.6,197.4) rotate(-90)" font-size="8.9" stroke="#000" stroke-width="0.2">A<tspan font-size="5.87" dy="3.7">g</tspan><tspan dy="-3.7">(2)</tspan></text>
<text transform="translate(79.7,205.8) rotate(-90)" font-size="8.9" stroke="#000" stroke-width="0.2">B<tspan font-size="5.87" dy="3.7">2g</tspan><tspan dy="-3.7">(2)</tspan></text>
<text transform="translate(129.3,211.10000000000002) rotate(-90)" font-size="8.9" stroke="#000" stroke-width="0.2">A<tspan font-size="5.87" dy="3.7">g</tspan><tspan dy="-3.7">(3)</tspan></text>
<text transform="translate(149.0,206.8) rotate(-90)" font-size="8.9" stroke="#000" stroke-width="0.2">A<tspan font-size="5.87" dy="3.7">g</tspan><tspan dy="-3.7">(4)</tspan></text>
<text transform="translate(180.5,194.60000000000002) rotate(-90)" font-size="8.9" stroke="#000" stroke-width="0.2">A<tspan font-size="5.87" dy="3.7">g</tspan><tspan dy="-3.7">(5)</tspan></text>
<text transform="translate(220.5,184.5) rotate(-90)" font-size="8.9" stroke="#000" stroke-width="0.2">B<tspan font-size="5.87" dy="3.7">2g</tspan><tspan dy="-3.7">(5)</tspan></text>
<text transform="translate(241.3,192.9) rotate(-90)" font-size="8.9" stroke="#000" stroke-width="0.2">B<tspan font-size="5.87" dy="3.7">2g</tspan><tspan dy="-3.7">(6)</tspan></text>
<text transform="translate(263.3,165.60000000000002) rotate(-90)" font-size="8.9" stroke="#000" stroke-width="0.2">B<tspan font-size="5.87" dy="3.7">2g</tspan><tspan dy="-3.7">(7)</tspan></text>
<text transform="translate(302.3,165.3) rotate(-90)" font-size="8.9" stroke="#000" stroke-width="0.2">B<tspan font-size="5.87" dy="3.7">3g</tspan><tspan dy="-3.7">(5)</tspan></text>
<text x="107" y="274.3" font-size="12.7">wavenumber x 100(cm<tspan font-size="7.6" dy="-5.3">-1</tspan><tspan dy="5.3">)</tspan></text>
<text transform="translate(9.4,180.5) rotate(-90)" font-size="13">Intensity (arb units)</text>
</svg>
</body></html>
